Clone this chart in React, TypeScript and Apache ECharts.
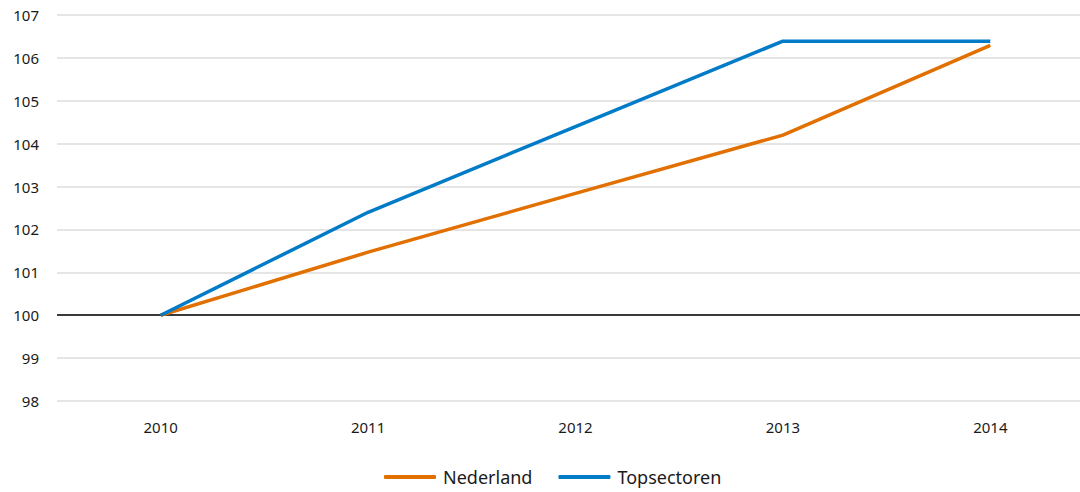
import React, { useEffect, useRef } from "react";
import * as echarts from "echarts";

const years = ["2010", "2011", "2012", "2013", "2014"];
const nederland = [100, 101.47, 102.84, 104.2, 106.29];
const topsectoren = [100, 102.4, 104.4, 106.39, 106.39];
const seriesNames = ["Nederland", "Topsectoren"];
const seriesColors = ["#E17000", "#007BC7"];

export default function App() {
  const ref = useRef<HTMLDivElement>(null);
  useEffect(() => {
    if (!ref.current) return;
    const chart = echarts.init(ref.current, undefined, { renderer: "svg" });
    const font = "'Noto Sans', 'Open Sans', sans-serif";
    chart.setOption({
      animation: false,
      textStyle: { fontFamily: font },
      grid: { left: 57, right: 0, top: 15, bottom: 91, containLabel: false },
      legend: {
        data: seriesNames,
        top: 466,
        left: 384,
        padding: 0,
        icon: "roundRect",
        itemWidth: 52,
        itemHeight: 4,
        itemGap: 26,
        textStyle: {
          fontSize: 18,
          lineHeight: 22,
          color: "#1a1a1a",
          fontFamily: font,
          padding: [0, 0, 0, 2],
        },
      },
      xAxis: {
        type: "category",
        data: years,
        boundaryGap: true,
        axisLine: { show: false },
        axisTick: { show: false },
        axisLabel: { fontSize: 15, color: "#1a1a1a", margin: 18, fontFamily: font },
        splitLine: { show: false },
      },
      yAxis: {
        type: "value",
        min: 98,
        max: 107,
        interval: 1,
        axisLine: { show: false },
        axisTick: { show: false },
        axisLabel: { fontSize: 15, color: "#1a1a1a", margin: 18, fontFamily: font },
        splitLine: { lineStyle: { color: "#dcdcdc", width: 1.5 } },
      },
      series: [
        {
          name: seriesNames[0],
          type: "line",
          data: nederland,
          symbol: "none",
          color: seriesColors[0],
          lineStyle: { width: 3.5, color: seriesColors[0] },
          z: 3,
          markLine: {
            silent: true,
            symbol: "none",
            label: { show: false },
            lineStyle: { color: "#000", width: 1.5, type: "solid" },
            data: [{ yAxis: 100 }],
            z: 1,
          },
        },
        {
          name: seriesNames[1],
          type: "line",
          data: topsectoren,
          symbol: "none",
          color: seriesColors[1],
          lineStyle: { width: 3.5, color: seriesColors[1] },
          z: 4,
        },
      ],
    });
    return () => chart.dispose();
  }, []);
  return (
    <div
      ref={ref}
      style={{ position: "fixed", left: 0, top: 0, width: 1094, height: 492, background: "#fff" }}
    />
  );
}
